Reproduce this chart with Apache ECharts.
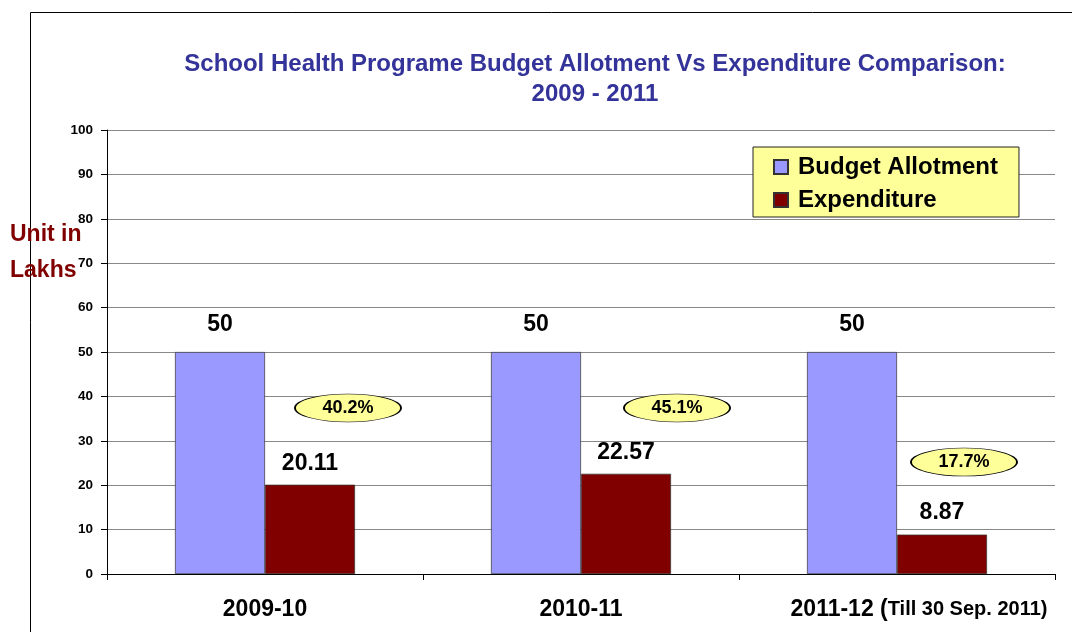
<!DOCTYPE html>
<html>
<head>
<meta charset="utf-8">
<script src="https://cdn.jsdelivr.net/npm/echarts@6/dist/echarts.min.js"></script>
<style>
  html, body { margin: 0; padding: 0; background: #fff; }
  #chart { width: 1072px; height: 632px; }
</style>
</head>
<body>
<div id="chart"></div>
<script>
const years = ["2009-10", "2010-11", "2011-12 (Till 30 Sep. 2011)"];
const budget = [50, 50, 50];
const expenditure = [20.11, 22.57, 8.87];
const yTicks = [0, 10, 20, 30, 40, 50, 60, 70, 80, 90, 100];

// where the % bubbles sit (axis value, px offset from the expenditure bar)
const bubbleY = [37.4, 37.4, 25.2];
const bubbleDx = [38, 51, 22];

const myChart = echarts.init(document.getElementById("chart"));
const font = "Liberation Sans, Arial, sans-serif";

const option = {
    animation: false,
    textStyle: { fontFamily: font },
    title: {
        text: "School Health Programe Budget Allotment Vs Expenditure Comparison:\n2009 - 2011",
        left: 590,
        top: 44,
        textAlign: "center",
        textStyle: {
            color: "#333399",
            fontSize: 24,
            fontWeight: "bold",
            lineHeight: 30,
            fontFamily: font,
        },
    },
    legend: {
        orient: "vertical",
        left: 753,
        top: 147,
        icon: "rect",
        backgroundColor: "#ffff99",
        borderColor: "#222",
        borderWidth: 1,
        padding: [8, 21, 5, 20],
        itemWidth: 14,
        itemHeight: 14,
        itemGap: 9,
        textStyle: {
            fontSize: 24,
            fontWeight: "bold",
            color: "#000",
            fontFamily: font,
            padding: [0, 0, 0, 5],
        },
    },
    grid: { left: 107, right: 17, top: 130, bottom: 58 },
    xAxis: {
        type: "category",
        data: years,
        axisLine: { lineStyle: { color: "#000" } },
        axisTick: { show: true, interval: 0, length: 6, lineStyle: { color: "#000" } },
        axisLabel: {
            interval: 0,
            margin: 24,
            color: "#000",
            fontSize: 23,
            fontWeight: "bold",
            formatter: (v) => {
                const i = v.indexOf("(");
                if (i < 0) return v;
                return "{pad|}" + v.slice(0, i + 1) + "{small|" + v.slice(i + 1) + "}";
            },
            rich: {
                pad: { width: 44 },
                small: { fontSize: 20, fontWeight: "bold", color: "#000" },
            },
        },
    },
    yAxis: {
        type: "value",
        min: yTicks[0],
        max: yTicks[yTicks.length - 1],
        interval: 10,
        axisLine: { show: true, lineStyle: { color: "#000" } },
        axisTick: { show: true, length: 6, lineStyle: { color: "#000" } },
        axisLabel: { color: "#000", fontSize: 13.5, fontWeight: "bold", margin: 14 },
        splitLine: { lineStyle: { color: "#888", width: 1 } },
    },
    series: [
        {
            name: "Budget Allotment",
            type: "bar",
            data: budget,
            barWidth: 90,
            barGap: "0%",
            itemStyle: { color: "#9999ff", borderColor: "#333", borderWidth: 0.7 },
            label: {
                show: true,
                position: "top",
                distance: 16,
                color: "#000",
                fontSize: 23,
                fontWeight: "bold",
            },
        },
        {
            name: "Expenditure",
            type: "bar",
            data: expenditure,
            barWidth: 90,
            itemStyle: { color: "#800000", borderColor: "#333", borderWidth: 0.7 },
            label: {
                show: true,
                position: "top",
                distance: 10,
                color: "#000",
                fontSize: 23,
                fontWeight: "bold",
            },
            markPoint: {
                symbol: "circle",
                symbolSize: [106, 28],
                itemStyle: { color: "#ffff99", borderColor: "#000", borderWidth: 1 },
                label: {
                    show: true,
                    position: "inside",
                    color: "#000",
                    fontSize: 18,
                    fontWeight: "bold",
                    formatter: (p) => p.name,
                },
                data: expenditure.map((v, i) => ({
                    name: ((v / budget[i]) * 100).toFixed(1) + "%",
                    coord: [i, bubbleY[i]],
                    symbolOffset: [bubbleDx[i], 0],
                })),
            },
        },
    ],
    graphic: [
        {
            type: "rect",
            shape: { x: 30.5, y: 12.5, width: 1100, height: 700 },
            style: { fill: "none", stroke: "#000", lineWidth: 1 },
            silent: true,
        },
        {
            type: "text",
            left: 10,
            top: 217,
            style: {
                text: "Unit in\nLakhs",
                fill: "#800000",
                font: "bold 23px " + font,
                lineHeight: 36,
            },
        },
    ],
};

myChart.setOption(option);
</script>
</body>
</html>
